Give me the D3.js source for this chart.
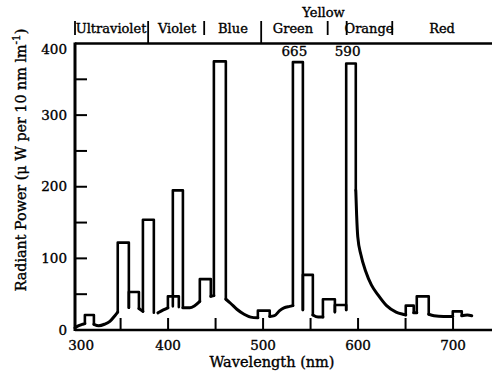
<!DOCTYPE html>
<html><head><meta charset="utf-8">
<script src="https://cdn.jsdelivr.net/npm/d3@7"></script>
<style>
body{margin:0;background:#fff}
svg{display:block}
text{font-family:"DejaVu Serif",serif;fill:#000;stroke:#000;stroke-width:0.35px}
</style>
</head><body>
<svg id="c" width="493" height="381"></svg>
<script>
// ---- data (wavelength nm, radiant power µW per 10 nm lm^-1) ----
const continuum = [[302,3],[306,6],[310,8],[312.4,9],[321.9,8],[327,6],[333,8],[338.7,12],[344,20],[347,25],
 [358.7,31],[364,30],[369.3,30],[373.5,26],[385,24],[389.3,24],[395,28],[399.8,31],[405,33],[411.3,32],[415.6,31],
 [422.9,31],[428,34],[433.4,40],[440,45],[445,47],[448.2,48],[455,47],[460.8,43],[466,37],[472.4,29],[480,22],
 [487,18],[494.5,17],[500,18],[507,19],[512,20],[517.4,27],[522,31],[527.9,33],[531.4,34],[537,33],[541.9,28],
 [547,24],[552.4,21],[558,18],[563,18],[570,22],[575.6,25],[582,27],[587.5,28],[592,100],[597.6,195],[598.5,160],
 [599.7,130],[603,105],[608,82],[614,63],[621,49],[630,34],[640,25],[647,22],[650.2,21],[655,22],
 [658.6,24],[661.8,24],[668,24],[674.4,22],[680,20],[690,19],[699.7,19],[705,19],[709.2,20],[715,21],[719.7,20]];
const continuumGaps = [[385,389.3]];
// emission bars: [start, end, top, base at start, base at end]
const bars = [[312.4,321.9,21,9,8],[347,358.7,122,25,31],[358.7,369.3,53,31,30],[373.5,385,154,26,24],
 [399.8,411.3,47,31,32],[405,415.6,195,33,31],[433.4,445,71,40,47],[448.2,460.8,375,48,43],
 [494.5,507,27,17,19],[531.4,541.9,374,34,28],[541.9,552.4,77,28,21],[563,575.6,43,18,25],
 [575.6,587.5,35,25,28],[587.5,597.6,372,28,195],[650.2,658.6,34,21,24],[661.8,674.4,47,24,22],
 [699.7,709.2,26,19,20]];
const xTicks = [350,400,450,500,550,600,650,700];
const xLabels = [300,400,500,600,700];
const yTicks = [50,100,150,200,250,300,350];
const yLabels = [0,100,200,300,400];
const bandEdges = [302,379,438,498,568,588,636];
const bandNames = ["Ultraviolet","Violet","Blue","Green","Orange","Red"];
const bandCenters = [340,409.4,468.3,531.5,611.5,688.4];
const upperBand = {name:"Yellow", center:563.6};
const peakNotes = [{text:"665", at:533},{text:"590", at:589}];

// ---- layout ----
const svg = d3.select("#c");
const x = d3.scaleLinear().domain([302,741]).range([75,492]);
const y = d3.scaleLinear().domain([0,400]).range([330,43.5]);

// axes frame
svg.append("line").attr("x1",x(302)).attr("x2",x(741)).attr("y1",y(0)).attr("y2",y(0))
  .attr("stroke","#000").attr("stroke-width",2.6);
svg.append("line").attr("x1",x(302)).attr("x2",x(741)).attr("y1",y(400)).attr("y2",y(400))
  .attr("stroke","#000").attr("stroke-width",2.6);
svg.append("line").attr("x1",x(302)).attr("x2",x(302)).attr("y1",y(400)-1).attr("y2",y(0)+1)
  .attr("stroke","#000").attr("stroke-width",3);

// ticks
svg.selectAll(".xt").data(xTicks).join("line")
  .attr("x1",d=>x(d)).attr("x2",d=>x(d)).attr("y1",y(0)).attr("y2",y(0)-12)
  .attr("stroke","#000").attr("stroke-width",2);
svg.selectAll(".yt").data(yTicks).join("line")
  .attr("x1",x(302)).attr("x2",x(302)+12).attr("y1",d=>y(d)).attr("y2",d=>y(d))
  .attr("stroke","#000").attr("stroke-width",2);

// tick labels
svg.selectAll(".xl").data(xLabels).join("text")
  .attr("x",(d,i)=>x(d)+(i===0?8:0)).attr("y",y(0)+20)
  .attr("text-anchor","middle").attr("font-size",13.5).text(d=>d);
svg.selectAll(".yl").data(yLabels).join("text")
  .attr("x",x(302)-8).attr("y",(d,i)=>y(d)+(i===yLabels.length-1?6:0))
  .attr("dy","0.35em").attr("text-anchor","end").attr("font-size",13.5).text(d=>d);

// axis titles
svg.append("text").attr("x",272).attr("y",367).attr("text-anchor","middle")
  .attr("font-size",14.5).text("Wavelength (nm)");
const yt = svg.append("text").attr("transform","translate(26,160) rotate(-90)")
  .attr("text-anchor","middle").attr("font-size",14.3);
yt.append("tspan").text("Radiant Power (\u03bc W per 10 nm lm");
yt.append("tspan").attr("dy",-6).attr("font-size",10.5).text("-1");
yt.append("tspan").attr("dy",6).text(")");

// band row
svg.selectAll(".be").data(bandEdges).join("line")
  .attr("x1",d=>x(d)).attr("x2",d=>x(d)).attr("y1",21).attr("y2",(d,i)=>(i===1||i===3)?y(400):35)
  .attr("stroke","#000").attr("stroke-width",1.8);
svg.selectAll(".bn").data(bandNames).join("text")
  .attr("x",(d,i)=>x(bandCenters[i])).attr("y",33).attr("text-anchor","middle")
  .attr("font-size",13).text(d=>d);
svg.append("text").attr("x",x(upperBand.center)).attr("y",17).attr("text-anchor","middle")
  .attr("font-size",13).text(upperBand.name);
svg.selectAll(".pn").data(peakNotes).join("text")
  .attr("x",d=>x(d.at)).attr("y",56).attr("text-anchor","middle")
  .attr("font-size",13.5).text(d=>d.text);

// continuum curve, split where bars or gaps cover it
const covers = [...bars.map(b=>[b[0],b[1]]), ...continuumGaps];
const inside = m => covers.some(c=>m>c[0] && m<c[1]);
const runs = []; let cur = null;
for (let i=0;i<continuum.length-1;i++){
  const a=continuum[i], b=continuum[i+1];
  if (inside((a[0]+b[0])/2)) { cur=null; continue; }
  if (!cur){ cur=[a]; runs.push(cur); }
  cur.push(b);
}
const line = d3.line().x(d=>x(d[0])).y(d=>y(d[1])).curve(d3.curveMonotoneX);
svg.selectAll(".run").data(runs).join("path")
  .attr("d",line).attr("fill","none").attr("stroke","#000")
  .attr("stroke-width",3).attr("stroke-linejoin","round").attr("stroke-linecap","round");

// emission bars
svg.selectAll(".bar").data(bars).join("path")
  .attr("d",b=>`M${x(b[0])},${y(b[3])}V${y(b[2])}H${x(b[1])}V${y(b[4])}`)
  .attr("fill","none").attr("stroke","#000").attr("stroke-width",2.6)
  .attr("stroke-linejoin","round").attr("stroke-linecap","round");
</script>
</body></html>
